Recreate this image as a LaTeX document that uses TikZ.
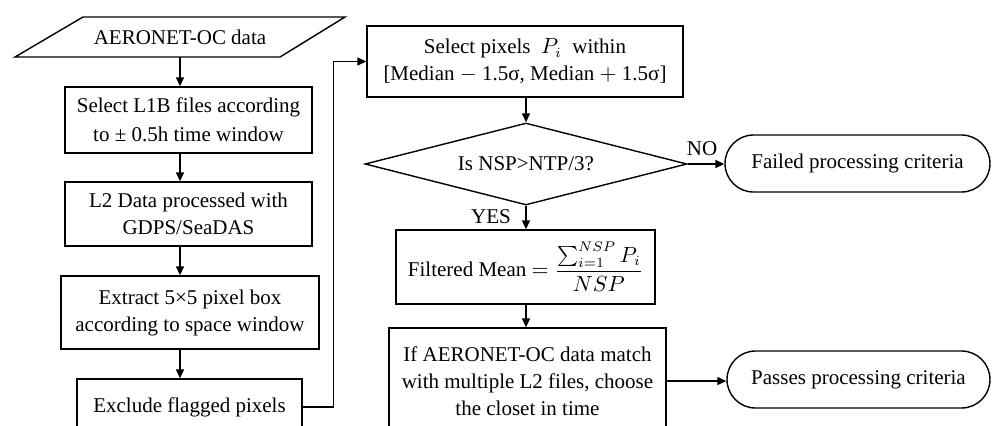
\documentclass[tikz,border=0pt]{standalone}
\usepackage{fontspec}
\setmainfont{Liberation Serif}
\usetikzlibrary{arrows.meta,shapes.geometric,shapes.misc}

\begin{document}
\begin{tikzpicture}[x=0.5pt,y=-0.5pt,
  every node/.style={font=\fontsize{10.5}{13.5}\selectfont, align=center, inner sep=0pt},
  proc/.style={draw, line width=0.7pt, rectangle},
  term/.style={draw, line width=0.7pt, rounded rectangle},
  dec/.style={draw, line width=0.7pt, diamond, aspect=4},
  flow/.style={line width=0.7pt, -{Triangle[length=4.5pt,width=4pt]}},
  plain/.style={line width=0.7pt}
]
\clip (0,0) rectangle (992,425);

% input data (parallelogram)
\draw[plain] (83,17) -- (345,17) -- (280,57) -- (15,57) -- cycle;
\node[minimum height=20pt] (data) at (180,37) {AERONET-OC data};

% left column
\node[proc, minimum width=123.5pt, minimum height=33pt] (b1) at (188.5,120)
  {Select L1B files according\\[1pt] to ± 0.5h time window};
\node[proc, minimum width=123.5pt, minimum height=32pt] (b2) at (188.5,214)
  {L2 Data processed with\\ GDPS/SeaDAS};
\node[proc, minimum width=129pt, minimum height=36.5pt] (b3) at (190,312.5)
  {Extract 5×5 pixel box\\ according to space window};
\node[proc, minimum width=112.5pt, minimum height=28pt] (b4) at (189.5,407)
  {Exclude flagged pixels};

% middle column
\node[proc, minimum width=158pt, minimum height=35.5pt] (b5) at (525,61.5)
  {Select pixels \ $P_i$\ \ within\\ {[}Median $-$ 1.5σ, Median $+$ 1.5σ{]}};
\node[dec, minimum width=161pt, minimum height=41pt] (dec) at (526,164)
  {Is NSP>NTP/3?};
\node[proc, minimum width=129.5pt, minimum height=37pt] (b6) at (525.5,267)
  {Filtered Mean $=\displaystyle\frac{\sum_{i=1}^{NSP} P_i}{NSP}$};
\node[proc, minimum width=138.5pt, minimum height=53pt] (b7) at (527.5,381)
  {If AERONET-OC data match\\ with multiple L2 files, choose\\ the closet in time};

% terminals
\node[term, minimum width=132.5pt, minimum height=28.5pt] (fail) at (857.5,163.5)
  {Failed processing criteria};
\node[term, minimum width=131.5pt, minimum height=28.5pt] (pass) at (858.5,379.5)
  {Passes processing criteria};

% branch labels
\node (yes) at (491,217) {YES};
\node (no) at (702,149) {NO};

% connectors
\draw[flow] (data.south) -- (data.south |- b1.north);
\draw[flow] (b1.south -| data.south) -- (b2.north -| data.south);
\draw[flow] (b2.south -| data.south) -- (b3.north -| data.south);
\draw[flow] (b3.south -| data.south) -- (b4.north -| data.south);
\draw[flow] (b4.east) -- ++(31,0) |- (b5.west);
\draw[flow] (b5.south -| dec.north) -- (dec.north);
\draw[flow] (dec.south) -- (dec.south |- b6.north);
\draw[flow] (b6.south -| dec.south) -- (b7.north -| dec.south);
\draw[flow] (dec.east) -- (dec.east -| fail.west);
\draw[flow] (b7.east) -- (b7.east -| pass.west);
\end{tikzpicture}
\end{document}
